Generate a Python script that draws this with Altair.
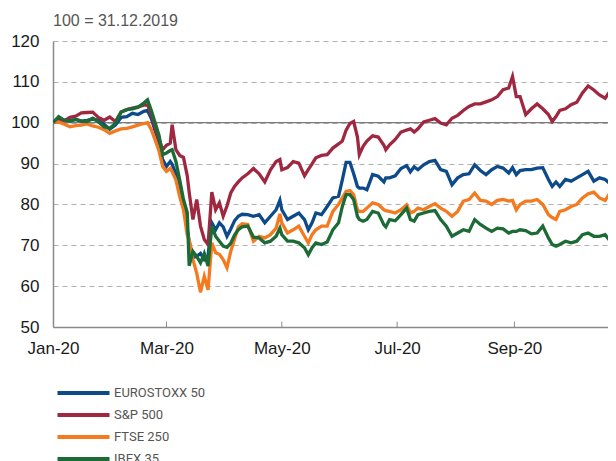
import altair as alt
import pandas as pd

dates = [
    "2020-01-01", "2020-01-04", "2020-01-07", "2020-01-10", "2020-01-13", "2020-01-16",
    "2020-01-19", "2020-01-22", "2020-01-25", "2020-01-28", "2020-01-31", "2020-02-03",
    "2020-02-06", "2020-02-09", "2020-02-12", "2020-02-15", "2020-02-18", "2020-02-20",
    "2020-02-22", "2020-02-24", "2020-02-26", "2020-02-28", "2020-03-01", "2020-03-03",
    "2020-03-04", "2020-03-06", "2020-03-08", "2020-03-10", "2020-03-12", "2020-03-13",
    "2020-03-15", "2020-03-17", "2020-03-19", "2020-03-21", "2020-03-23", "2020-03-25",
    "2020-03-27", "2020-03-29", "2020-03-31", "2020-04-02", "2020-04-04", "2020-04-06",
    "2020-04-08", "2020-04-10", "2020-04-13", "2020-04-16", "2020-04-19", "2020-04-22",
    "2020-04-25", "2020-04-28", "2020-04-30", "2020-05-01", "2020-05-04", "2020-05-07",
    "2020-05-10", "2020-05-13", "2020-05-15", "2020-05-17", "2020-05-19", "2020-05-22",
    "2020-05-25", "2020-05-28", "2020-05-31", "2020-06-02", "2020-06-04", "2020-06-06",
    "2020-06-08", "2020-06-10", "2020-06-11", "2020-06-13", "2020-06-15", "2020-06-18",
    "2020-06-21", "2020-06-24", "2020-06-25", "2020-06-27", "2020-06-30", "2020-07-03",
    "2020-07-06", "2020-07-08", "2020-07-10", "2020-07-12", "2020-07-15", "2020-07-18",
    "2020-07-21", "2020-07-24", "2020-07-27", "2020-07-30", "2020-08-02", "2020-08-05",
    "2020-08-08", "2020-08-11", "2020-08-14", "2020-08-17", "2020-08-20", "2020-08-23",
    "2020-08-26", "2020-08-29", "2020-08-31", "2020-09-02", "2020-09-04", "2020-09-07",
    "2020-09-10", "2020-09-13", "2020-09-16", "2020-09-19", "2020-09-21", "2020-09-23",
    "2020-09-25", "2020-09-28", "2020-10-01", "2020-10-04", "2020-10-07", "2020-10-10",
    "2020-10-13", "2020-10-16", "2020-10-19", "2020-10-21", "2020-10-24",
]

eurostoxx = [
    100.0, 100.8, 100.6, 100.5, 100.8, 100.4, 100.6, 100.9, 100.6, 99.6, 98.4, 99.4,
    101.3, 101.5, 102.3, 102.0, 102.8, 103.0, 101.0, 98.0, 95.2, 91.0, 89.3, 90.5,
    89.8, 87.5, 82.8, 79.5, 74.0, 71.0, 67.0, 67.3, 68.0, 66.5, 67.5, 75.5,
    73.8, 75.5, 74.5, 72.2, 74.0, 76.0, 77.1, 77.6, 77.5, 77.1, 77.5, 75.5,
    77.1, 78.7, 81.0, 78.7, 76.3, 77.1, 77.9, 76.3, 73.8, 75.5, 77.9, 77.5,
    79.5, 81.6, 82.0, 86.0, 90.3, 90.3, 87.5, 84.4, 84.0, 84.0, 83.6, 87.3,
    86.9, 85.5, 86.5, 86.5, 87.0, 88.8, 89.5, 88.0, 89.2, 88.5, 89.7, 90.5,
    90.8, 88.5, 88.1, 84.8, 86.5, 87.3, 87.5, 89.7, 88.3, 87.3, 88.5, 89.3,
    88.9, 87.7, 89.0, 87.3, 88.3, 88.5, 88.5, 88.9, 89.0, 86.1, 84.4, 85.5,
    84.4, 86.1, 85.7, 86.5, 87.3, 88.1, 85.7, 86.5, 86.1, 85.3, 83.2,
]

sp500 = [
    100.0, 100.3, 100.5, 101.3, 101.6, 102.4, 102.5, 102.6, 101.3, 100.6, 101.4, 100.3,
    102.6, 103.2, 103.6, 103.9, 104.3, 104.4, 102.0, 99.0, 96.0, 93.4, 94.5, 95.0,
    99.5, 93.4, 92.0, 91.5, 87.0, 83.0, 76.3, 81.2, 74.7, 71.4, 70.2, 83.0,
    78.7, 80.4, 77.1, 79.6, 82.8, 84.4, 85.5, 86.5, 87.5, 88.8, 87.5, 85.5,
    88.5, 90.5, 91.0, 88.5, 89.0, 90.5, 90.1, 87.0, 88.5, 89.9, 91.4, 92.0,
    92.2, 93.8, 94.8, 95.5, 98.2, 99.8, 100.3, 96.5, 92.2, 94.2, 95.5, 96.8,
    96.5, 94.5, 93.4, 94.6, 95.9, 97.7, 98.2, 98.5, 97.7, 98.5, 100.2, 100.6,
    101.0, 99.9, 99.5, 101.1, 101.8, 103.0, 104.0, 104.6, 104.6, 105.1, 105.6, 106.4,
    108.1, 108.5, 111.3, 106.4, 106.4, 102.0, 103.4, 104.6, 103.4, 102.0, 100.3, 101.5,
    103.0, 103.4, 104.4, 105.0, 107.3, 109.0, 108.0, 106.8, 106.0, 107.3, 105.8,
]

ftse250 = [
    100.0, 100.2, 99.6, 99.0, 99.3, 99.4, 99.7, 99.2, 98.9, 98.3, 97.4, 98.0,
    98.5, 98.6, 99.0, 99.4, 99.8, 100.0, 98.3, 95.8, 93.2, 89.3, 88.1, 88.8,
    88.0, 86.0, 81.9, 78.7, 72.5, 71.4, 66.5, 63.2, 58.5, 62.4, 59.1, 70.6,
    68.2, 67.8, 66.5, 64.5, 68.5, 71.5, 74.5, 75.3, 75.1, 71.0, 72.2, 71.8,
    72.6, 74.2, 77.7, 75.5, 73.0, 73.8, 74.7, 72.2, 70.6, 72.6, 73.8, 74.7,
    74.7, 78.3, 80.0, 81.6, 83.2, 83.4, 82.4, 78.7, 78.3, 78.3, 79.1, 80.4,
    80.0, 78.7, 78.5, 78.3, 77.9, 78.7, 79.9, 77.9, 78.3, 79.1, 78.7, 79.5,
    80.2, 79.1, 78.3, 77.1, 78.3, 80.8, 81.2, 82.8, 81.0, 80.8, 80.0, 81.0,
    81.2, 80.8, 81.0, 78.7, 80.0, 80.8, 80.8, 81.2, 80.0, 77.5, 76.8, 76.3,
    78.3, 78.7, 79.5, 80.0, 81.6, 82.6, 83.0, 81.6, 81.0, 82.4, 81.0,
]

ibex35 = [
    100.0, 101.5, 100.6, 100.4, 100.8, 100.4, 100.3, 101.1, 100.2, 99.0, 98.6, 99.9,
    102.6, 103.2, 103.4, 103.8, 104.8, 105.6, 103.0, 100.0, 97.0, 92.2, 92.6, 93.2,
    93.4, 90.5, 86.0, 81.2, 78.0, 65.0, 68.5, 67.3, 65.7, 68.0, 64.9, 74.7,
    72.2, 71.0, 69.8, 69.5, 70.5, 72.5, 73.8, 74.5, 74.7, 72.0, 71.8, 70.6,
    71.0, 72.2, 74.2, 72.6, 71.0, 71.0, 70.6, 69.4, 67.7, 69.4, 70.6, 70.2,
    70.8, 73.8, 75.5, 79.5, 82.4, 82.4, 81.2, 77.1, 76.3, 75.9, 76.3, 78.3,
    77.9, 75.0, 74.5, 76.3, 76.0, 77.5, 79.1, 76.3, 75.9, 77.5, 77.9, 78.3,
    78.5, 76.3, 74.7, 72.2, 73.0, 73.8, 73.4, 76.3, 75.1, 74.2, 73.4, 74.2,
    74.0, 73.0, 73.4, 73.4, 73.8, 73.6, 72.8, 73.0, 74.7, 71.8, 70.2, 69.8,
    70.2, 71.0, 70.6, 71.0, 72.6, 73.0, 72.2, 72.2, 72.6, 71.4, 71.4,
]

series_names = ["EUROSTOXX 50", "S&P 500", "FTSE 250", "IBEX 35"]
series_colors = ["#0d4a89", "#9f2840", "#f47a20", "#1c6b36"]
x_tick_dates = ["2020-01-01", "2020-03-01", "2020-05-01", "2020-07-01", "2020-09-01"]
y_ticks = [50, 60, 70, 80, 90, 100, 110, 120]
reference_level = 100
title_text = "100 = 31.12.2019"

all_series = [eurostoxx, sp500, ftse250, ibex35]
for s in all_series:
    assert len(s) == len(dates), (len(s), len(dates))

rows = []
for name, vals in zip(series_names, all_series):
    for d, v in zip(dates, vals):
        rows.append({"date": d, "index": name, "value": v})
df = pd.DataFrame(rows)

ticks_df = pd.DataFrame({"date": x_tick_dates[1:]})


def dt(s, hours=0):
    y, m, d = (int(p) for p in s.split("-"))
    return alt.DateTime(year=y, month=m, date=d, hours=hours, utc=True)


FONT = "Liberation Sans"
x_scale = alt.Scale(type="utc", domain=[dt("2020-01-01"), dt("2020-10-20", 12)])
y_scale = alt.Scale(domain=[50, 120], nice=False, zero=False)

color = alt.Color(
    "index:N",
    scale=alt.Scale(domain=series_names, range=series_colors),
    sort=series_names,
    legend=alt.Legend(
        title=None,
        orient="none",
        legendX=24,
        legendY=345.5,
        direction="vertical",
        symbolType="M -6.5 0 H 6.5",
        symbolSize=64,
        symbolStrokeWidth=4,
        symbolFillColor="transparent",
        labelFont="Roboto",
        labelFontSize=13,
        labelColor="#555555",
        labelOffset=24,
        rowPadding=5,
        padding=0,
    ),
)

x_enc = alt.X(
    "date:T",
    scale=x_scale,
    title=None,
    axis=alt.Axis(
        values=[dt(s) for s in x_tick_dates],
        format="%b-%y",
        grid=False,
        ticks=False,
        labelFlush=False,
        labelPadding=13,
        labelFont=FONT,
        labelFontSize=17,
        labelColor="#1a1a1a",
        domainColor="#8a8a8a",
        domainWidth=1.5,
    ),
)

y_enc = alt.Y(
    "value:Q",
    scale=y_scale,
    title=None,
    axis=alt.Axis(
        values=y_ticks,
        grid=True,
        gridDash=[5, 4],
        gridColor="#b0b0b0",
        gridWidth=1,
        ticks=False,
        labelPadding=14,
        labelFont=FONT,
        labelFontSize=17,
        labelColor="#1a1a1a",
        domainColor="#8a8a8a",
        domainWidth=1.5,
    ),
)

ref_rule = alt.Chart(pd.DataFrame({"level": [reference_level]})).mark_rule(
    color="#7a7a7a", strokeWidth=1.2
).encode(y=alt.Y("level:Q", scale=y_scale))

tick_marks = alt.Chart(ticks_df).mark_rule(color="#8a8a8a", strokeWidth=1).encode(
    x=alt.X("date:T", scale=x_scale),
    y=alt.datum(50),
    y2=alt.datum(51.3),
)

base = alt.Chart(df).mark_line(strokeWidth=3.3, clip=True).encode(
    x=x_enc, y=y_enc, color=color
)
lines = [base.transform_filter(alt.datum["index"] == n) for n in series_names]

chart = (
    alt.layer(ref_rule, tick_marks, *lines)
    .properties(
        width=555,
        height=286,
        autosize=alt.AutoSizeParams(type="none"),
        padding={"left": 45, "top": 33, "right": 0, "bottom": 134},
        title=alt.TitleParams(
            title_text,
            anchor="start",
            frame="group",
            font=FONT,
            fontSize=16,
            fontWeight="normal",
            color="#555555",
            baseline="alphabetic",
            offset=6,
            dy=16,
        ),
    )
    .configure_view(strokeWidth=0)
)

chart.save("out.html", embed_options={"renderer": "svg", "actions": False})
